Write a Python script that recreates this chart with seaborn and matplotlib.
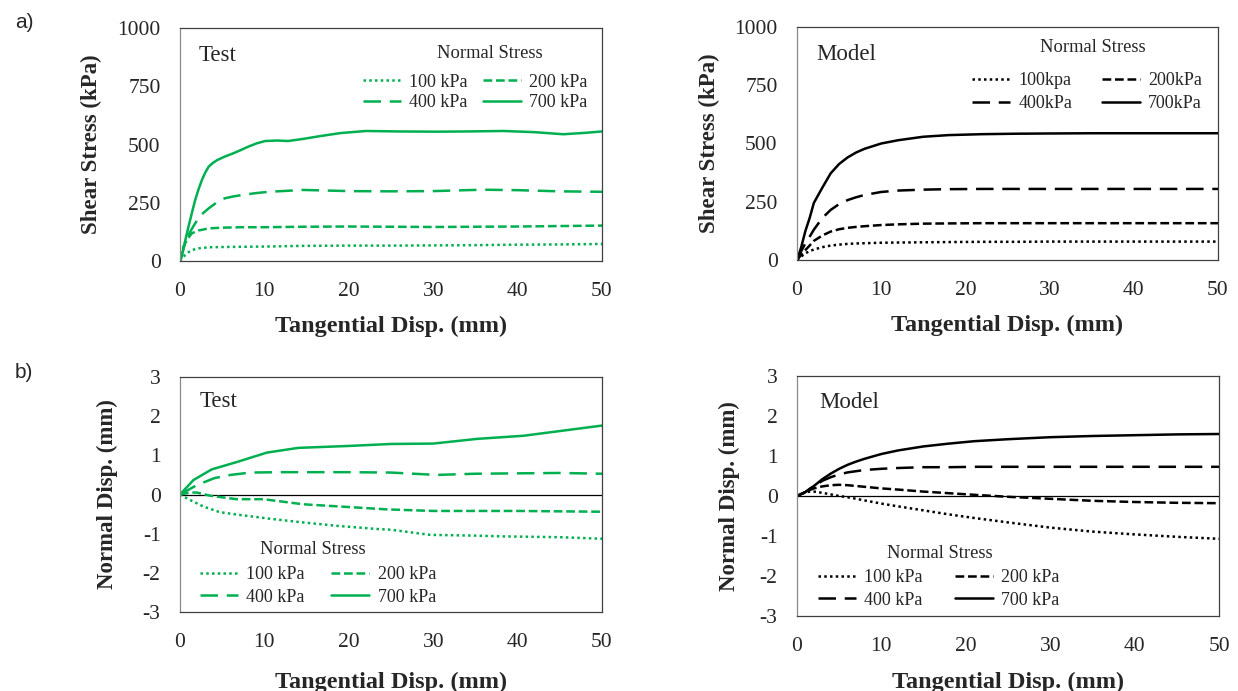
import numpy as np
import pandas as pd
import matplotlib
matplotlib.use("Agg")
import matplotlib.pyplot as plt
import seaborn as sns

sns.set_style("white")
plt.rcParams['font.family'] = ['Liberation Serif', 'DejaVu Serif']
plt.rcParams['axes.unicode_minus'] = False

GREEN = '#00B050'

# ---- a) shear stress vs tangential displacement ----
# test data
ts_x_100 = [0, 0.4, 0.9, 1.4, 2.2, 3.4, 5, 7.3, 10, 14.6, 20, 25, 30, 35, 40, 45, 50]
ts_y_100 = [0, 18, 35, 47, 54, 59, 60, 61, 62, 65, 66, 66, 67, 68, 70, 71, 73]
ts_x_200 = [0, 0.4, 0.9, 1.4, 2.2, 3.4, 5, 7.3, 10, 14.6, 20, 25, 30, 35, 40, 45, 50]
ts_y_200 = [0, 61, 95, 119, 131, 140, 143, 145, 145, 147, 148, 147, 146, 147, 148, 150, 152]
ts_x_400 = [0, 0.6, 1.2, 1.8, 2.5, 3.4, 4.3, 5.3, 6.3, 7.3, 8.9, 10.5, 14.6, 20, 25, 30, 35.9, 40, 45, 50]
ts_y_400 = [0, 76, 125, 162, 198, 226, 250, 269, 277, 283, 291, 297, 305, 300, 299, 300, 306, 304, 299, 297]
ts_x_700 = [0, 0.2, 0.6, 1.0, 1.4, 1.8, 2.2, 2.6, 3.0, 3.4, 3.9, 4.4, 5.3, 6.3, 7.2, 8.1, 9.1, 10.1,
            11.5, 12.8, 14.6, 16.6, 19, 22, 26, 30.4, 34, 38.3, 42, 45.4, 48, 50]
ts_y_700 = [0, 18, 85, 147, 205, 262, 308, 348, 380, 405, 421, 433, 448, 462, 476, 491, 505, 515,
            517, 515, 524, 536, 549, 558, 556, 555, 556, 558, 553, 544, 550, 556]

# model data
ms_x = [0, 0.5, 1, 1.5, 2, 3, 4, 5, 6, 7, 8, 10, 12, 15, 18, 22, 26, 30, 35, 40, 45, 50]
ms_y_100 = [0, 15, 29, 38, 45, 55, 62, 66, 69, 71, 72, 74, 75, 76, 77, 78, 78, 79, 79, 79, 79, 79]
ms_y_200 = [0, 22, 43, 62, 82, 105, 122, 132, 138, 142, 145, 150, 153, 156, 157, 158, 158, 158, 158, 158, 158, 158]
ms_y_400 = [0, 38, 72, 100, 130, 180, 215, 240, 257, 269, 279, 292, 298, 302, 304, 305, 305, 305, 305, 305, 305, 305]
ms_y_700 = [0, 55, 125, 180, 245, 310, 372, 412, 440, 461, 477, 500, 514, 529, 536, 540, 542, 543, 544, 544, 544, 544]

# ---- b) normal displacement vs tangential displacement ----
tn_x_100 = [0, 1, 2.8, 4.7, 7, 10.7, 14, 18.6, 23.3, 25, 29.6, 35, 38.3, 45, 50]
tn_y_100 = [0, -0.12, -0.31, -0.45, -0.52, -0.62, -0.70, -0.80, -0.88, -0.90, -1.03, -1.05, -1.07, -1.09, -1.13]
tn_x_200 = [0, 1.2, 2, 3.55, 6.7, 9.9, 14.6, 20, 24.5, 30, 35, 40, 45, 50]
tn_y_200 = [0, 0.05, 0.05, -0.03, -0.12, -0.12, -0.25, -0.32, -0.38, -0.42, -0.42, -0.42, -0.43, -0.44]
tn_x_400 = [0, 1, 2, 4.1, 6, 8.3, 12, 20, 25, 30.4, 35, 40, 45, 50]
tn_y_400 = [0, 0.12, 0.24, 0.42, 0.50, 0.56, 0.57, 0.57, 0.56, 0.50, 0.53, 0.54, 0.55, 0.53]
tn_x_700 = [0, 1.6, 3.75, 6.9, 10.3, 14, 20, 25, 30, 35.2, 40.7, 45, 50]
tn_y_700 = [0, 0.37, 0.64, 0.84, 1.07, 1.19, 1.24, 1.29, 1.30, 1.42, 1.50, 1.62, 1.76]

mn_x = [0, 1, 1.5, 2, 3, 4, 5, 6, 7, 8, 10, 12, 15, 18, 21, 25, 30, 35, 40, 45, 50]
mn_y_100 = [0, 0.09, 0.11, 0.11, 0.08, 0.04, 0.0, -0.03, -0.07, -0.11, -0.19, -0.26, -0.36, -0.46,
            -0.55, -0.66, -0.79, -0.89, -0.96, -1.02, -1.07]
mn_y_200 = [0, 0.10, 0.15, 0.19, 0.24, 0.27, 0.28, 0.27, 0.25, 0.23, 0.19, 0.16, 0.11, 0.07,
            0.03, -0.02, -0.07, -0.12, -0.15, -0.17, -0.18]
mn_y_400 = [0, 0.10, 0.17, 0.24, 0.38, 0.47, 0.54, 0.59, 0.62, 0.65, 0.68, 0.70, 0.72, 0.72,
            0.73, 0.73, 0.73, 0.73, 0.73, 0.73, 0.73]
mn_y_700 = [0, 0.10, 0.18, 0.25, 0.42, 0.56, 0.68, 0.78, 0.86, 0.93, 1.05, 1.14, 1.24, 1.31,
            1.37, 1.42, 1.47, 1.50, 1.52, 1.54, 1.55]

labels_kpa = ['100 kPa', '200 kPa', '400 kPa', '700 kPa']
labels_model_a = ['100kpa', '200kPa', '400kPa', '700kPa']

# line styles: round dot, dash, long dash, solid
styles = [(0, (1, 1.3)), (0, (3.5, 1.5)), (0, (7, 3.5)), '-']
LW = 1.8

fig = plt.figure(figsize=(12.38, 6.91), dpi=100)
W, H = 1238, 691


def make_axes(l, t, r, b):
    return fig.add_axes([l / W, 1 - b / H, (r - l) / W, (b - t) / H])


ax_a1 = make_axes(180, 28, 602, 261)
ax_a2 = make_axes(797, 27, 1218, 260)
ax_b1 = make_axes(180, 377, 602, 612)
ax_b2 = make_axes(797, 376, 1219, 616)


def draw(ax, series, color, labels):
    for (x, y), ls, lab in zip(series, styles, labels):
        sns.lineplot(x=x, y=y, ax=ax, color=color, linestyle=ls, lw=LW,
                     sort=False, estimator=None, label=lab)
    return ax.get_legend_handles_labels()


def style_axes(ax, ylim, yticks, ylabel, ylab_x, xlab_y):
    ax.set_xlim(0, 50)
    ax.set_ylim(*ylim)
    ax.set_xticks(range(0, 51, 10))
    ax.set_yticks(yticks)
    ax.tick_params(axis='both', length=0, labelsize=15.5)
    ax.tick_params(axis='x', pad=15)
    ax.tick_params(axis='y', pad=14)
    for s in ax.spines.values():
        s.set_color('#404040')
        s.set_linewidth(0.9)
    ax.spines['left'].set_color('#8a8a8a')
    ax.set_xlabel('Tangential Disp. (mm)', fontsize=17.5, fontweight='bold')
    ax.set_ylabel(ylabel, fontsize=16.5, fontweight='bold')
    ax.yaxis.set_label_coords(ylab_x, 0.5)
    ax.xaxis.set_label_coords(0.5, xlab_y)


def legend(ax, handles, labs, anchor, colsp, lsp):
    order = [0, 2, 1, 3]
    ax.legend([handles[i] for i in order], [labs[i] for i in order], ncol=2,
              loc='center left', bbox_to_anchor=anchor, frameon=False,
              fontsize=13, handlelength=2.1, handletextpad=0.45,
              columnspacing=colsp, labelspacing=lsp, borderpad=0,
              borderaxespad=0)


# a) test
h, l = draw(ax_a1, [(ts_x_100, ts_y_100), (ts_x_200, ts_y_200),
                    (ts_x_400, ts_y_400), (ts_x_700, ts_y_700)], GREEN, labels_kpa)
style_axes(ax_a1, (0, 1000), [0, 250, 500, 750, 1000], 'Shear Stress (kPa)', -0.185, -0.236)
legend(ax_a1, h, l, (0.434, 0.723), 0.85, 0.2)
ax_a1.text(0.735, 0.89, 'Normal Stress', transform=ax_a1.transAxes, ha='center', va='center', fontsize=13.3)
ax_a1.text(0.045, 0.884, 'Test', transform=ax_a1.transAxes, ha='left', va='center', fontsize=16.5)

# a) model
h, l = draw(ax_a2, [(ms_x, ms_y_100), (ms_x, ms_y_200),
                    (ms_x, ms_y_400), (ms_x, ms_y_700)], 'black', labels_model_a)
style_axes(ax_a2, (0, 1000), [0, 250, 500, 750, 1000], 'Shear Stress (kPa)', -0.183, -0.236)
legend(ax_a2, h, l, (0.416, 0.721), 1.65, 0.35)
ax_a2.text(0.703, 0.91, 'Normal Stress', transform=ax_a2.transAxes, ha='center', va='center', fontsize=13.3)
ax_a2.text(0.045, 0.88, 'Model', transform=ax_a2.transAxes, ha='left', va='center', fontsize=16.5)

# b) test
h, l = draw(ax_b1, [(tn_x_100, tn_y_100), (tn_x_200, tn_y_200),
                    (tn_x_400, tn_y_400), (tn_x_700, tn_y_700)], GREEN, labels_kpa)
style_axes(ax_b1, (-3, 3), range(-3, 4), 'Normal Disp. (mm)', -0.147, -0.255)
ax_b1.axhline(0, color='black', lw=0.9, zorder=1)
legend(ax_b1, h, l, (0.047, 0.111), 1.5, 0.3)
ax_b1.text(0.315, 0.264, 'Normal Stress', transform=ax_b1.transAxes, ha='center', va='center', fontsize=13.3)
ax_b1.text(0.047, 0.894, 'Test', transform=ax_b1.transAxes, ha='left', va='center', fontsize=16.5)

# b) model
h, l = draw(ax_b2, [(mn_x, mn_y_100), (mn_x, mn_y_200),
                    (mn_x, mn_y_400), (mn_x, mn_y_700)], 'black', labels_kpa)
style_axes(ax_b2, (-3, 3), range(-3, 4), 'Normal Disp. (mm)', -0.135, -0.233)
ax_b2.axhline(0, color='black', lw=0.9, zorder=1)
legend(ax_b2, h, l, (0.050, 0.1125), 1.8, 0.28)
ax_b2.text(0.338, 0.2625, 'Normal Stress', transform=ax_b2.transAxes, ha='center', va='center', fontsize=13.3)
ax_b2.text(0.054, 0.8875, 'Model', transform=ax_b2.transAxes, ha='left', va='center', fontsize=16.5)

fig.text(15 / W, 1 - 23 / H, 'a)', family=['Liberation Sans', 'DejaVu Sans'], fontsize=15, va='center')
fig.text(15 / W, 1 - 373 / H, 'b)', family=['Liberation Sans', 'DejaVu Sans'], fontsize=15, va='center')

fig.savefig('out.png', dpi=100)
